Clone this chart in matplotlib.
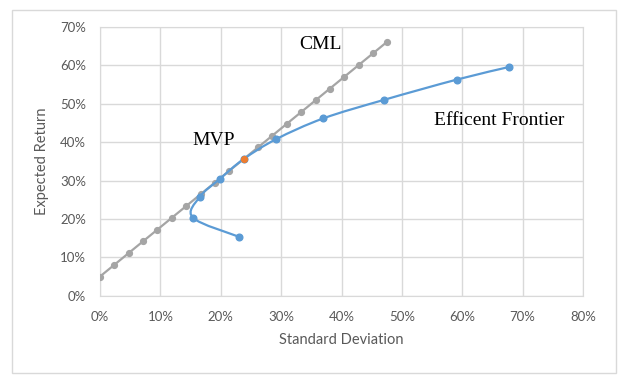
import matplotlib
matplotlib.use("Agg")
import matplotlib.pyplot as plt
from matplotlib.path import Path
from matplotlib.patches import PathPatch, Rectangle
from matplotlib.ticker import PercentFormatter

# Capital market line (std dev %, expected return %)
cml_sd = [0.0, 2.38, 4.76, 7.14, 9.52, 11.9, 14.28, 16.66, 19.04, 21.42, 23.8,
          26.18, 28.56, 30.94, 33.32, 35.7, 38.08, 40.46, 42.84, 45.22, 47.6]
cml_ret = [5.0, 8.06, 11.12, 14.18, 17.24, 20.3, 23.36, 26.42, 29.48, 32.54, 35.6,
           38.66, 41.72, 44.78, 47.84, 50.9, 53.96, 57.02, 60.08, 63.14, 66.2]

# Efficient frontier
ef_sd = [23.1, 15.4, 16.5, 19.9, 23.8, 29.2, 37.0, 47.0, 59.1, 67.8]
ef_ret = [15.3, 20.3, 25.7, 30.5, 35.6, 40.8, 46.2, 51.0, 56.3, 59.6]

# tangency point
mvp_sd = [23.8]
mvp_ret = [35.6]

x_ticks = [0, 10, 20, 30, 40, 50, 60, 70, 80]
y_ticks = [0, 10, 20, 30, 40, 50, 60, 70]

grey = "#A5A5A5"
blue = "#5B9BD5"
orange = "#ED7D31"
grid_c = "#D9D9D9"
text_c = "#595959"


def smooth_path(xs, ys):
    # excel-like smoothed line (catmull-rom as cubic bezier)
    pts = list(zip(xs, ys))
    verts = [pts[0]]
    codes = [Path.MOVETO]
    n = len(pts)
    for i in range(n - 1):
        p0 = pts[i - 1] if i > 0 else pts[i]
        p1 = pts[i]
        p2 = pts[i + 1]
        p3 = pts[i + 2] if i + 2 < n else pts[i + 1]
        c1 = (p1[0] + (p2[0] - p0[0]) / 6, p1[1] + (p2[1] - p0[1]) / 6)
        c2 = (p2[0] - (p3[0] - p1[0]) / 6, p2[1] - (p3[1] - p1[1]) / 6)
        verts += [c1, c2, p2]
        codes += [Path.CURVE4] * 3
    return Path(verts, codes)


fig = plt.figure(figsize=(6.18, 3.77), dpi=100)
fig.patches.append(Rectangle((12 / 618, 4 / 377), 604 / 618, 363 / 377,
                             transform=fig.transFigure, fill=False,
                             edgecolor=grid_c, linewidth=1))
ax = fig.add_axes([100 / 618, 1 - 295.7 / 377, 483 / 618, 268.7 / 377])

ax.plot(cml_sd, cml_ret, color=grey, linewidth=1.6, marker="o",
        markersize=4.2, zorder=3)
ax.add_patch(PathPatch(smooth_path(ef_sd, ef_ret), facecolor="none",
                       edgecolor=blue, linewidth=1.6, zorder=4))
ax.plot(ef_sd, ef_ret, linestyle="none", marker="o", markersize=4.8,
        color=blue, zorder=5)
ax.plot(mvp_sd, mvp_ret, linestyle="none", marker="o", markersize=4.2,
        color=orange, zorder=6)

ax.set_xlim(0, 80)
ax.set_ylim(0, 70)
ax.set_xticks(x_ticks)
ax.set_yticks(y_ticks)
ax.xaxis.set_major_formatter(PercentFormatter(decimals=0))
ax.yaxis.set_major_formatter(PercentFormatter(decimals=0))
ax.grid(True, color=grid_c, linewidth=1)
ax.set_axisbelow(True)
for s in ax.spines.values():
    s.set_color(grid_c)
ax.tick_params(length=0, colors=text_c, labelsize=9.5)
for lab in ax.get_xticklabels() + ax.get_yticklabels():
    lab.set_family("Lato")
ax.tick_params(axis="x", pad=11)
ax.tick_params(axis="y", pad=10)

ax.set_xlabel("Standard Deviation", family="Lato", fontsize=10.5,
              color=text_c, labelpad=7)
ax.set_ylabel("Expected Return", family="Lato", fontsize=10.5,
              color=text_c, labelpad=8)

serif = dict(family="Liberation Serif", fontsize=14, color="black",
             ha="center", va="center")
ax.text(36.5, 65.4, "CML", **serif)
ax.text(18.8, 40.5, "MVP", **serif)
ax.text(66.2, 45.7, "Efficent Frontier", **serif)

fig.savefig("out.png", dpi=100)
